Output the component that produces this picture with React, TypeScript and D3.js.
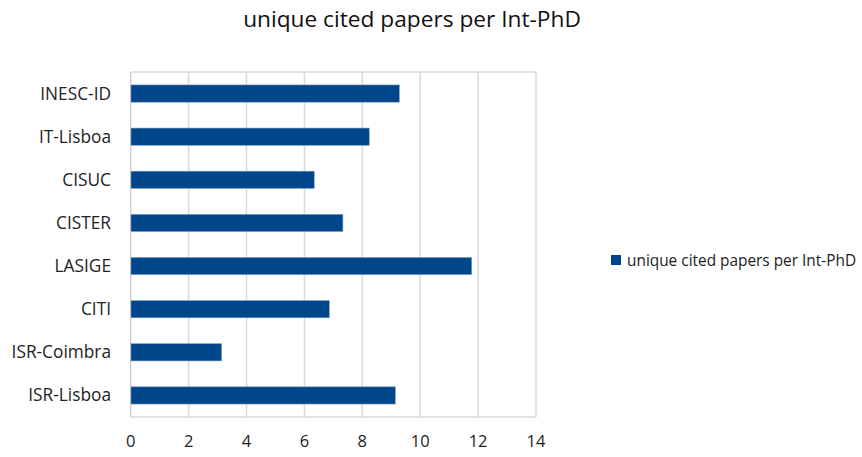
import * as d3 from "d3";
import { useEffect, useRef } from "react";

const categories = [
  "INESC-ID",
  "IT-Lisboa",
  "CISUC",
  "CISTER",
  "LASIGE",
  "CITI",
  "ISR-Coimbra",
  "ISR-Lisboa",
];
const values = [9.28, 8.24, 6.34, 7.33, 11.78, 6.86, 3.14, 9.14];
const xTicks = [0, 2, 4, 6, 8, 10, 12, 14];
const seriesName = "unique cited papers per Int-PhD";
const title = "unique cited papers per Int-PhD";

const App = () => {
  const ref = useRef<SVGSVGElement>(null);
  const width = 862;
  const height = 457;

  useEffect(() => {
    const margin = { top: 72, left: 130.7, right: 536, bottom: 417 };
    const font = "'Open Sans', 'Liberation Sans', sans-serif";
    const barColor = "#00468a";

    const svg = d3.select(ref.current);
    svg.selectAll("*").remove();

    svg.append("rect").attr("width", width).attr("height", height).attr("fill", "white");

    const x = d3.scaleLinear().domain([0, 14]).range([margin.left, margin.right]);
    const y = d3
      .scaleBand()
      .domain(categories)
      .range([margin.top, margin.bottom])
      .paddingInner(0.6)
      .paddingOuter(0.3);

    // gridlines
    svg
      .append("g")
      .selectAll("line")
      .data(xTicks.slice(1))
      .join("line")
      .attr("x1", (d) => x(d))
      .attr("x2", (d) => x(d))
      .attr("y1", margin.top)
      .attr("y2", margin.bottom)
      .attr("stroke", "#d9d9d9")
      .attr("stroke-width", 1.5);

    // top and bottom border
    svg
      .append("line")
      .attr("x1", margin.left)
      .attr("x2", margin.right)
      .attr("y1", margin.top)
      .attr("y2", margin.top)
      .attr("stroke", "#d9d9d9")
      .attr("stroke-width", 1.5);
    svg
      .append("line")
      .attr("x1", margin.left)
      .attr("x2", margin.right)
      .attr("y1", margin.bottom)
      .attr("y2", margin.bottom)
      .attr("stroke", "#d9d9d9")
      .attr("stroke-width", 1.5);

    // bars
    svg
      .append("g")
      .selectAll("rect")
      .data(values)
      .join("rect")
      .attr("x", x(0))
      .attr("y", (_, i) => y(categories[i])!)
      .attr("width", (d) => x(d) - x(0))
      .attr("height", y.bandwidth())
      .attr("fill", barColor)
      .attr("stroke", "#7fa2c4")
      .attr("stroke-width", 0.6);

    // y axis line
    svg
      .append("line")
      .attr("x1", margin.left)
      .attr("x2", margin.left)
      .attr("y1", margin.top)
      .attr("y2", margin.bottom)
      .attr("stroke", "#bfbfbf")
      .attr("stroke-width", 1);

    // category labels
    svg
      .append("g")
      .selectAll("text")
      .data(categories)
      .join("text")
      .attr("x", 111)
      .attr("y", (d) => y(d)! + y.bandwidth() / 2)
      .attr("dy", "0.35em")
      .attr("text-anchor", "end")
      .attr("font-family", font)
      .attr("font-size", 17.3)
      .attr("fill", "#222")
      .text((d) => d);

    // x tick labels
    svg
      .append("g")
      .selectAll("text")
      .data(xTicks)
      .join("text")
      .attr("x", (d) => x(d))
      .attr("y", 447)
      .attr("text-anchor", "middle")
      .attr("font-family", font)
      .attr("font-size", 16.5)
      .attr("fill", "#222")
      .text((d) => d);

    // title
    svg
      .append("text")
      .attr("x", 412)
      .attr("y", 27)
      .attr("text-anchor", "middle")
      .attr("font-family", font)
      .attr("font-size", 22.7)
      .attr("fill", "#111")
      .text(title);

    // legend
    svg
      .append("rect")
      .attr("x", 611)
      .attr("y", 255)
      .attr("width", 10)
      .attr("height", 10)
      .attr("fill", barColor);
    svg
      .append("text")
      .attr("x", 627)
      .attr("y", 265.5)
      .attr("font-family", font)
      .attr("font-size", 15.4)
      .attr("fill", "#222")
      .text(seriesName);
  }, []);

  return (
    <svg
      ref={ref}
      width={width}
      height={height}
      style={{ position: "absolute", left: 0, top: 0 }}
    ></svg>
  );
};

export default App;
